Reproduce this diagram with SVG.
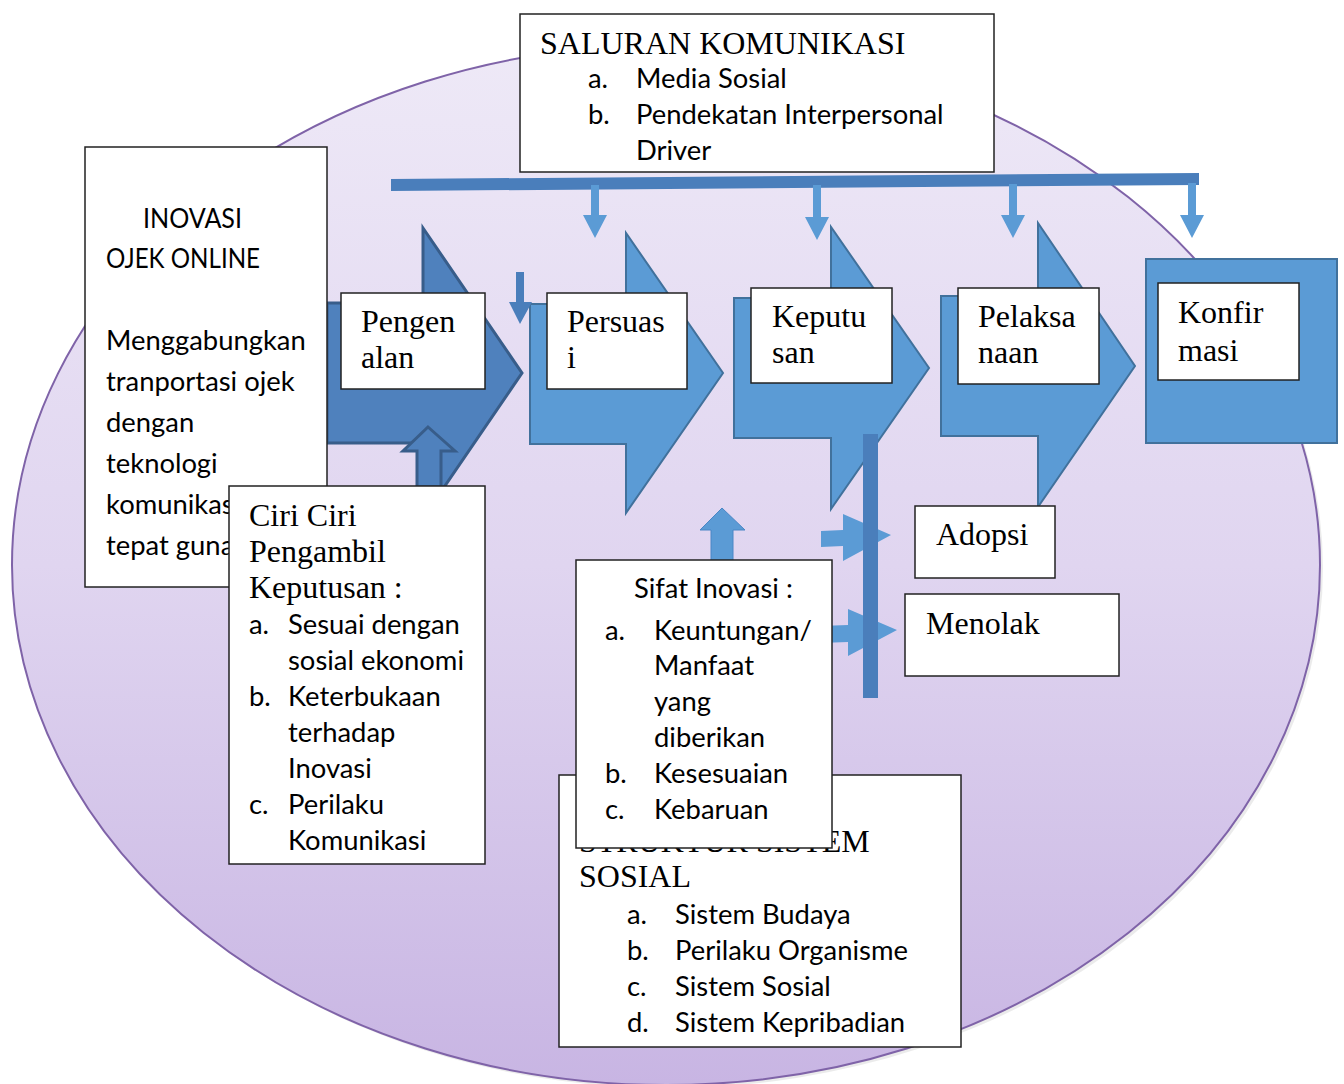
<svg xmlns="http://www.w3.org/2000/svg" width="1344" height="1084" viewBox="0 0 1344 1084">
<defs>
<linearGradient id="bg" x1="0" y1="0" x2="0" y2="1">
<stop offset="0" stop-color="#eee9f7"/>
<stop offset="0.5" stop-color="#e0d5f0"/>
<stop offset="1" stop-color="#c8b5e3"/>
</linearGradient>
<style>
.box{fill:#fff;stroke:#222;stroke-width:1.5}
.dark{fill:#4f81bd;stroke:#385d8a;stroke-width:3}
.light{fill:#5b9bd5;stroke:#41719c;stroke-width:2}
.conn{fill:#5b9bd5}
.conn2{fill:#4a7ebb}
.serif{font-family:"Liberation Serif","Times New Roman",serif;font-size:32px;fill:#000}
.sans{font-family:Lato,Carlito,Calibri,sans-serif;font-size:27.4px;fill:#000}
</style>
</defs>
<rect width="1344" height="1084" fill="#fff"/>
<ellipse cx="669" cy="568" rx="654" ry="520" fill="#000" opacity="0.08"/>
<ellipse id="bg-ellipse" cx="666" cy="565" rx="654" ry="520" fill="url(#bg)" stroke="#7f63a8" stroke-width="2"/>

<g id="node-pengenalan">
<polygon class="dark" points="327,303 423,303 423,228 522,373 423,518 423,443 327,443"/>
<rect class="box" x="341" y="293" width="144" height="96"/>
<text class="serif" x="361" y="332">Pengen</text>
<text class="serif" x="361" y="368">alan</text>
</g>
<g id="node-persuasi">
<polygon class="light" points="530,304 626,304 626,233 723,373 626,513 626,444 530,444"/>
<rect class="box" x="547" y="293" width="140" height="96"/>
<text class="serif" x="567" y="332">Persuas</text>
<text class="serif" x="567" y="368">i</text>
</g>
<g id="node-keputusan">
<polygon class="light" points="734,298 831,298 831,227 929,368 831,509 831,438 734,438"/>
<rect class="box" x="751" y="288" width="141" height="95"/>
<text class="serif" x="772" y="327">Keputu</text>
<text class="serif" x="772" y="363">san</text>
</g>
<g id="node-pelaksanaan">
<polygon class="light" points="941,296 1038,296 1038,223 1135,366 1038,507 1038,436 941,436"/>
<rect class="box" x="958" y="288" width="141" height="96"/>
<text class="serif" x="978" y="327">Pelaksa</text>
<text class="serif" x="978" y="363">naan</text>
</g>
<g id="node-konfirmasi">
<rect class="light" x="1146" y="259" width="191" height="184"/>
<rect class="box" x="1158" y="283" width="141" height="97"/>
<text class="serif" x="1178" y="323">Konfir</text>
<text class="serif" x="1178" y="361">masi</text>
</g>

<g id="connectors">
<polygon class="conn2" points="391,179 1199,173 1199,185 391,191"/>
<polygon class="conn" points="591,185 599,185 599,215 607,215 595,238 583,215 591,215"/>
<polygon class="conn" points="813,185 821,185 821,217 829,217 817,240 805,217 813,217"/>
<polygon class="conn" points="1009,184 1017,184 1017,215 1025,215 1013,238 1001,215 1009,215"/>
<polygon class="conn" points="1188,183 1196,183 1196,215 1204,215 1192,238 1180,215 1188,215"/>
<polygon class="conn2" points="516,272 524,272 524,302 532,302 520,324 509,302 516,302"/>
<polygon class="dark" points="428,427 455,451 441,451 441,487 417,487 417,451 403,451"/>
<polygon class="conn" stroke="#4a86c5" stroke-width="1" points="722,508 745,530 733,530 733,561 711,561 711,530 700,530"/>
<polygon class="conn" points="821,531 843,530 843,514 891,535 843,561 843,546 821,547"/>
<polygon class="conn" points="820,626 848,625 848,609 897,630 848,656 848,642 820,643"/>
<rect class="conn2" x="863" y="434" width="15" height="264"/>
</g>

<g id="node-inovasi">
<rect class="box" x="85" y="147" width="242" height="440"/>
<text class="sans" x="143" y="228" font-size="28" textLength="99" lengthAdjust="spacingAndGlyphs">INOVASI</text>
<text class="sans" x="106" y="268" font-size="28" textLength="154" lengthAdjust="spacingAndGlyphs">OJEK ONLINE</text>
<text class="sans" x="106" y="350">Menggabungkan</text>
<text class="sans" x="106" y="391">tranportasi ojek</text>
<text class="sans" x="106" y="432">dengan</text>
<text class="sans" x="106" y="473">teknologi</text>
<text class="sans" x="106" y="514">komunikasi</text>
<text class="sans" x="106" y="555">tepat guna</text>
</g>

<g id="node-ciri">
<rect class="box" x="229" y="486" width="256" height="378"/>
<text class="serif" x="249" y="526">Ciri Ciri</text>
<text class="serif" x="249" y="562">Pengambil</text>
<text class="serif" x="249" y="598">Keputusan :</text>
<text class="sans" x="249" y="634">a.</text>
<text class="sans" x="288" y="634">Sesuai dengan</text>
<text class="sans" x="288" y="670">sosial ekonomi</text>
<text class="sans" x="249" y="706">b.</text>
<text class="sans" x="288" y="706">Keterbukaan</text>
<text class="sans" x="288" y="742">terhadap</text>
<text class="sans" x="288" y="778">Inovasi</text>
<text class="sans" x="249" y="814">c.</text>
<text class="sans" x="288" y="814">Perilaku</text>
<text class="sans" x="288" y="850">Komunikasi</text>
</g>

<g id="node-struktur">
<rect class="box" x="559" y="775" width="402" height="272"/>
<text class="serif" x="579" y="852">STRUKTUR SISTEM</text>
<text class="serif" x="579" y="887">SOSIAL</text>
<text class="sans" x="627" y="924">a.</text>
<text class="sans" x="675" y="924">Sistem Budaya</text>
<text class="sans" x="627" y="960">b.</text>
<text class="sans" x="675" y="960">Perilaku Organisme</text>
<text class="sans" x="627" y="996">c.</text>
<text class="sans" x="675" y="996">Sistem Sosial</text>
<text class="sans" x="627" y="1032">d.</text>
<text class="sans" x="675" y="1032">Sistem Kepribadian</text>
</g>

<g id="node-sifat">
<rect class="box" x="576" y="560" width="256" height="288"/>
<text class="sans" x="634" y="598">Sifat Inovasi :</text>
<text class="sans" x="605" y="640">a.</text>
<text class="sans" x="654" y="640">Keuntungan/</text>
<text class="sans" x="654" y="675">Manfaat</text>
<text class="sans" x="654" y="711">yang</text>
<text class="sans" x="654" y="747">diberikan</text>
<text class="sans" x="605" y="783">b.</text>
<text class="sans" x="654" y="783">Kesesuaian</text>
<text class="sans" x="605" y="819">c.</text>
<text class="sans" x="654" y="819">Kebaruan</text>
</g>

<g id="node-adopsi">
<rect class="box" x="915" y="506" width="140" height="72"/>
<text class="serif" x="936" y="545">Adopsi</text>
</g>
<g id="node-menolak">
<rect class="box" x="905" y="594" width="214" height="82"/>
<text class="serif" x="926" y="634">Menolak</text>
</g>

<g id="node-saluran">
<rect class="box" x="520" y="14" width="474" height="158"/>
<text class="serif" x="540" y="54">SALURAN KOMUNIKASI</text>
<text class="sans" x="588" y="88">a.</text>
<text class="sans" x="636" y="88">Media Sosial</text>
<text class="sans" x="588" y="124">b.</text>
<text class="sans" x="636" y="124">Pendekatan Interpersonal</text>
<text class="sans" x="636" y="160">Driver</text>
</g>
</svg>
